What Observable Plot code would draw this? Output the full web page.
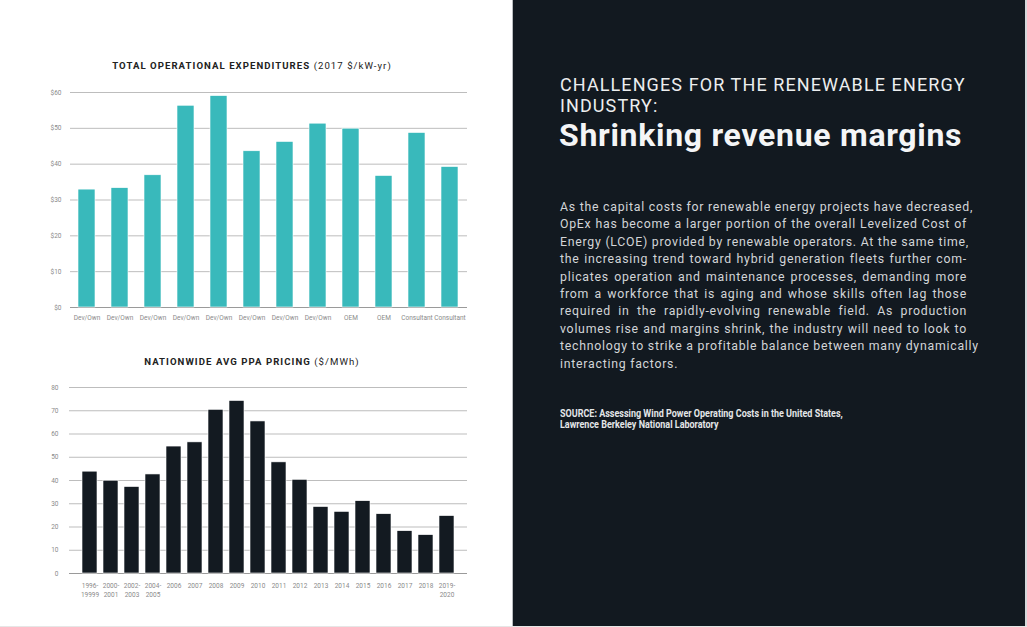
<!DOCTYPE html>
<html>
<head>
<meta charset="utf-8">
<script src="https://cdn.jsdelivr.net/npm/d3@7"></script>
<script src="https://cdn.jsdelivr.net/npm/@observablehq/plot@0.6"></script>
<style>
  html, body { margin: 0; padding: 0; }
  body { width: 1027px; height: 627px; position: relative; overflow: hidden; background: #ffffff; font-family: Roboto, "DejaVu Sans", sans-serif; }
  .ctitle { position: absolute; left: 0; width: 504px; text-align: center; font-size: 9.6px; letter-spacing: 1.05px; color: #222; font-weight: 700; }
  .ctitle span { font-weight: 400; }
  .chart { position: absolute; left: 0; }
  #panel { position: absolute; left: 512px; top: 0; width: 513px; height: 626px; background: #121920; border-left: 1px solid #b9bcbf; }
  #edge { position: absolute; left: 1025px; top: 0; width: 2px; height: 627px; background: #d6d8da; }
  #bottom { position: absolute; left: 0; top: 626px; width: 1027px; height: 1px; background: #e6e6e6; }
  .h1 { position: absolute; left: 560px; top: 74px; width: 440px; font-size: 18px; line-height: 21px; color: #eceeef; letter-spacing: 1.1px; }
  .h2 { position: absolute; left: 559px; top: 116px; font-size: 32px; font-weight: 700; color: #f4f5f6; letter-spacing: 0.7px; }
  .para { position: absolute; left: 560px; top: 199px; width: 407px; font-size: 12.3px; line-height: 17.4px; color: #d2d5d8; letter-spacing: 0.75px; }
  .para div { text-align: justify; text-align-last: justify; white-space: nowrap; }
  .para div.last { text-align-last: left; }
  .src { position: absolute; left: 560px; top: 409px; font-weight: 700; font-size: 10px; line-height: 10.5px; color: #e4e6e8; transform: scaleX(0.9); transform-origin: 0 0; white-space: nowrap; }
</style>
</head>
<body>
<div class="ctitle" style="top:60px;">TOTAL OPERATIONAL EXPENDITURES <span>(2017 $/kW-yr)</span></div>
<div id="c1" class="chart" style="top:82px;"></div>
<div class="ctitle" style="top:356px;">NATIONWIDE AVG PPA PRICING <span>($/MWh)</span></div>
<div id="c2" class="chart" style="top:377px;"></div>

<div id="panel"></div>
<div id="edge"></div>
<div id="bottom"></div>
<div class="h1">CHALLENGES FOR THE RENEWABLE ENERGY<br>INDUSTRY:</div>
<div class="h2">Shrinking revenue margins</div>
<div class="para">
  <div>As the capital costs for renewable energy projects have decreased,</div>
  <div>OpEx has become a larger portion of the overall Levelized Cost of</div>
  <div>Energy (LCOE) provided by renewable operators. At the same time,</div>
  <div>the increasing trend toward hybrid generation fleets further com-</div>
  <div>plicates operation and maintenance processes, demanding more</div>
  <div>from a workforce that is aging and whose skills often lag those</div>
  <div>required in the rapidly-evolving renewable field. As production</div>
  <div>volumes rise and margins shrink, the industry will need to look to</div>
  <div>technology to strike a profitable balance between many dynamically</div>
  <div class="last">interacting factors.</div>
</div>
<div class="src">SOURCE: Assessing Wind Power Operating Costs in the United States,<br>Lawrence Berkeley National Laboratory</div>

<script>
// ---- Data: Total operational expenditures (2017 $/kW-yr)
const opexLabels = ["Dev/Own","Dev/Own","Dev/Own","Dev/Own","Dev/Own","Dev/Own","Dev/Own","Dev/Own","OEM","OEM","Consultant","Consultant"];
const opexValues = [32.9, 33.3, 36.9, 56.3, 59.0, 43.6, 46.2, 51.3, 49.9, 36.7, 48.7, 39.2];
const opexTicks = [0, 10, 20, 30, 40, 50, 60];

// ---- Data: Nationwide avg PPA pricing ($/MWh)
const ppaLabels = ["1996-\n19999","2000-\n2001","2002-\n2003","2004-\n2005","2006","2007","2008","2009","2010","2011","2012","2013","2014","2015","2016","2017","2018","2019-\n2020"];
const ppaValues = [43.8, 39.9, 37.2, 42.6, 54.6, 56.4, 70.4, 74.2, 65.4, 47.8, 40.3, 28.6, 26.5, 31.1, 25.5, 18.2, 16.5, 24.7];
const ppaTicks = [0, 10, 20, 30, 40, 50, 60, 70, 80];

const opexData = opexValues.map((v, i) => ({i, label: opexLabels[i], value: v}));
const ppaData = ppaValues.map((v, i) => ({i, label: ppaLabels[i], value: v}));

const font = "Roboto, 'DejaVu Sans', sans-serif";

const c1 = Plot.plot({
  width: 480, height: 250,
  marginLeft: 70, marginRight: 13, marginTop: 10, marginBottom: 25,
  style: {fontFamily: font, background: "transparent", overflow: "visible"},
  x: {type: "band", domain: d3.range(opexLabels.length), paddingInner: 0.48, paddingOuter: 0.25, axis: null, label: null},
  y: {domain: [0, 60], axis: null, label: null},
  marks: [
    Plot.ruleY(opexTicks, {stroke: d => d === 0 ? "#9a9a9a" : "#bdbdbd", strokeWidth: 1}),
    Plot.barY(opexData, {x: "i", y: "value", fill: "#39b9bb", stroke: "#ffffff", strokeWidth: 0.6}),
    Plot.axisY(opexTicks, {label: null, tickSize: 0, tickPadding: 9, fontSize: 6.5, fill: "#8a8a8a", tickFormat: d => "$" + d}),
    Plot.axisX(d3.range(opexLabels.length), {label: null, tickSize: 0, tickPadding: 8, fontSize: 6.5, fill: "#8a8a8a", tickFormat: i => opexLabels[i]})
  ]
});
document.getElementById("c1").appendChild(c1);

const c2 = Plot.plot({
  width: 480, height: 232,
  marginLeft: 69, marginRight: 13, marginTop: 10, marginBottom: 36,
  style: {fontFamily: font, background: "transparent", overflow: "visible"},
  x: {type: "band", domain: d3.range(ppaLabels.length), paddingInner: 0.27, paddingOuter: 0.22, axis: null, label: null},
  y: {domain: [0, 80], axis: null, label: null},
  marks: [
    Plot.ruleY(ppaTicks, {stroke: d => d === 0 ? "#9a9a9a" : "#bdbdbd", strokeWidth: 1}),
    Plot.barY(ppaData, {x: "i", y: "value", fill: "#131a21", stroke: "#ffffff", strokeWidth: 0.6}),
    Plot.axisY(ppaTicks, {label: null, tickSize: 0, tickPadding: 11, fontSize: 6.5, fill: "#8a8a8a"}),
    Plot.axisX(d3.range(ppaLabels.length), {label: null, tickSize: 0, tickPadding: 8, fontSize: 6.5, lineHeight: 1.35, fill: "#8a8a8a", tickFormat: i => ppaLabels[i]})
  ]
});
document.getElementById("c2").appendChild(c2);
</script>
</body>
</html>
